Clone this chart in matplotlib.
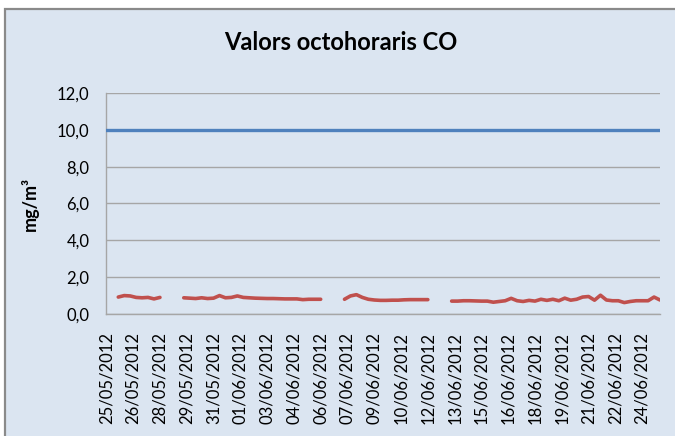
import numpy as np
import matplotlib
matplotlib.use("Agg")
import matplotlib.pyplot as plt
from matplotlib.patches import Rectangle

# 8-hourly CO readings (mg/m3), one point every 8 hours from 25/05/2012 00:00
nan = np.nan
co_values = [
    nan, nan,
    0.92, 1.0, 0.98, 0.9, 0.88, 0.9, 0.82, 0.9,
    nan, nan, nan,
    0.88, 0.86, 0.84, 0.88, 0.84, 0.86, 1.0, 0.88, 0.9, 0.98, 0.9, 0.88,
    0.86, 0.85, 0.84, 0.84, 0.83, 0.82, 0.82, 0.82, 0.78, 0.8, 0.8, 0.8,
    nan, nan, nan,
    0.8, 0.98, 1.05, 0.9, 0.8, 0.76, 0.74, 0.74, 0.75, 0.75, 0.77, 0.78,
    0.78, 0.78, 0.78,
    nan, nan, nan,
    0.7, 0.7, 0.72, 0.72, 0.71, 0.7, 0.7, 0.64, 0.68, 0.72, 0.85, 0.72,
    0.68, 0.74, 0.7, 0.8, 0.74, 0.8, 0.72, 0.86, 0.75, 0.8, 0.92, 0.95,
    0.75, 1.02, 0.76, 0.72, 0.72, 0.62, 0.68, 0.72, 0.72, 0.72, 0.92, 0.76,
]
hours = np.arange(len(co_values)) * 8
limit_value = 10.0

date_labels = ["25/05/2012", "26/05/2012", "28/05/2012", "29/05/2012", "31/05/2012",
               "01/06/2012", "03/06/2012", "04/06/2012", "06/06/2012", "07/06/2012",
               "09/06/2012", "10/06/2012", "12/06/2012", "13/06/2012", "15/06/2012",
               "16/06/2012", "18/06/2012", "19/06/2012", "21/06/2012", "22/06/2012",
               "24/06/2012"]
label_hours = np.arange(len(date_labels)) * 36
y_ticks = [0, 2, 4, 6, 8, 10, 12]

plt.rcParams['font.family'] = ['Lato', 'DejaVu Sans']

bg = '#dbe5f1'
fig = plt.figure(figsize=(6.75, 4.36), dpi=100)
fig.patch.set_facecolor('white')
# chart frame (extends past right and bottom edges)
frame = Rectangle((5 / 675, -0.05), 1.2, 1 - 9 / 436 + 0.05,
                  transform=fig.transFigure, facecolor=bg,
                  edgecolor='#8a8a8a', linewidth=1.6, zorder=-10)
fig.patches.append(frame)

ax = fig.add_axes([106 / 675, 1 - 314 / 436, (660 - 106) / 675, (314 - 93) / 436])
ax.set_facecolor(bg)

ax.axhline(limit_value, color='#4f81bd', lw=2.4, zorder=3)
ax.plot(hours, co_values, color='#c0504d', lw=2.6, zorder=3, solid_capstyle='round')

ax.set_xlim(-0.5, 744)
ax.set_ylim(0, 12)
ax.set_yticks(y_ticks)
ax.set_yticklabels([f"{v:.1f}".replace('.', ',') for v in y_ticks], fontsize=12)
ax.set_xticks(label_hours)
ax.set_xticklabels(date_labels, rotation=90, fontsize=12)
ax.tick_params(axis='both', length=0, colors='#000000')
ax.tick_params(axis='x', pad=13)
ax.tick_params(axis='y', pad=12)

ax.grid(axis='y', color='#a6a6a6', lw=1)
ax.set_axisbelow(True)
for side in ['top', 'right']:
    ax.spines[side].set_visible(False)
for side in ['left', 'bottom']:
    ax.spines[side].set_color('#a6a6a6')
    ax.spines[side].set_linewidth(1)

ax.set_ylabel("mg/m³", fontsize=13, fontweight='bold', labelpad=13)
fig.text(341 / 675, 1 - 42 / 436, "Valors octohoraris CO", ha='center', va='center',
         fontsize=17, fontweight='bold')

fig.savefig("out.png", dpi=100, facecolor=fig.get_facecolor())
